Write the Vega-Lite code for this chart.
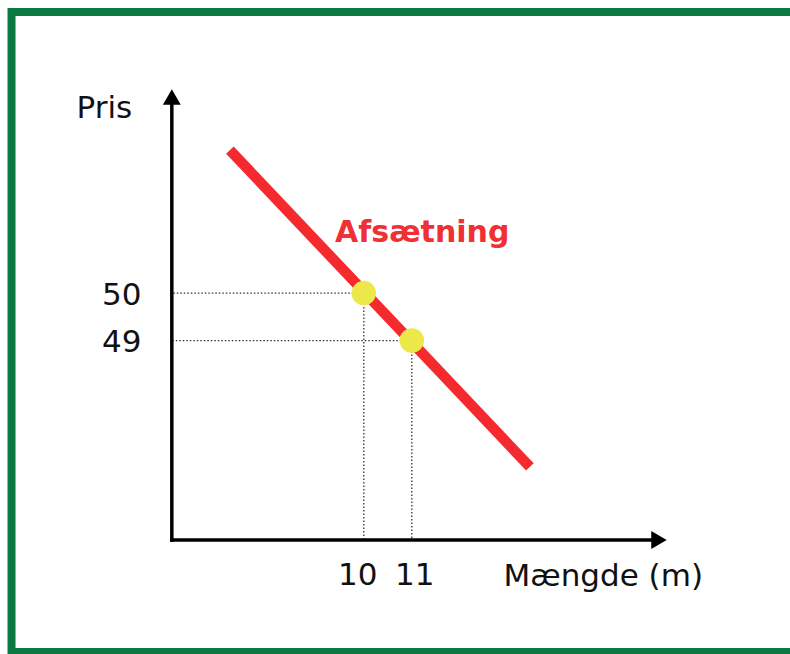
{
  "$schema": "https://vega.github.io/schema/vega-lite/v6.json",
  "width": 790,
  "height": 654,
  "padding": 0,
  "autosize": {"type": "fit", "contains": "padding"},
  "background": "white",
  "config": {"view": {"stroke": null}},
  "datasets": {
    "demand": [{"m": 7.21, "p": 53.01}, {"m": 13.46, "p": 46.34}],
    "points": [{"m": 10, "p": 50}, {"m": 11, "p": 49}],
    "origin": [{"m": 6.0, "p": 44.8}],
    "tips": [{"m": 16.15, "p": 44.8, "dir": "triangle-right"}, {"m": 6.0, "p": 54.13, "dir": "triangle-up"}],
    "labels": [{"m": 9.4, "p": 51.075, "label": "Afsætning"}],
    "frame": [{"m": 2.66, "p": 55.917}]
  },
  "layer": [
    {
      "data": {"name": "points"},
      "mark": {"type": "rule", "color": "#333", "strokeWidth": 1.3, "strokeDash": [1.5, 2]},
      "encoding": {
        "x": {"field": "m", "type": "quantitative"},
        "x2": {"datum": 6.0},
        "y": {"field": "p", "type": "quantitative"}
      }
    },
    {
      "data": {"name": "points"},
      "mark": {"type": "rule", "color": "#333", "strokeWidth": 1.3, "strokeDash": [1.5, 2]},
      "encoding": {
        "x": {"field": "m", "type": "quantitative"},
        "y": {"field": "p", "type": "quantitative"},
        "y2": {"datum": 44.8}
      }
    },
    {
      "data": {"name": "origin"},
      "mark": {"type": "rule", "color": "black", "strokeWidth": 3.5, "strokeCap": "square"},
      "encoding": {
        "x": {"field": "m", "type": "quantitative"},
        "x2": {"datum": 16.0},
        "y": {"field": "p", "type": "quantitative"}
      }
    },
    {
      "data": {"name": "origin"},
      "mark": {"type": "rule", "color": "black", "strokeWidth": 3.5, "strokeCap": "square"},
      "encoding": {
        "x": {"field": "m", "type": "quantitative"},
        "y": {"field": "p", "type": "quantitative"},
        "y2": {"datum": 54.0}
      }
    },
    {
      "data": {"name": "tips"},
      "mark": {"type": "point", "filled": true, "color": "black", "size": 320, "opacity": 1},
      "encoding": {
        "x": {"field": "m", "type": "quantitative"},
        "y": {"field": "p", "type": "quantitative"},
        "shape": {"field": "dir", "type": "nominal", "scale": null, "legend": null}
      }
    },
    {
      "data": {"name": "demand"},
      "mark": {"type": "line", "color": "#f42a2f", "strokeWidth": 10.5, "strokeCap": "butt"},
      "encoding": {
        "x": {
          "field": "m", "type": "quantitative",
          "scale": {"domain": [2.42, 18.88], "nice": false, "zero": false},
          "axis": {
            "orient": "bottom", "offset": -114, "values": [10, 11],
            "labels": false, "domain": false, "ticks": false, "tickSize": 0, "grid": false,
            "title": "Mængde (m)", "titleFont": "DejaVu Sans", "titleFontSize": 31, "titleFontWeight": "normal",
            "titleColor": "#111", "titleX": 503, "titleY": 45, "titleAlign": "left", "titleBaseline": "alphabetic"
          }
        },
        "y": {
          "field": "p", "type": "quantitative",
          "scale": {"domain": [42.4, 56.17], "nice": false, "zero": false},
          "axis": {
            "orient": "left", "offset": -172, "values": [49, 50], "format": "d",
            "domain": false, "ticks": false, "tickSize": 0, "grid": false,
            "labelFont": "DejaVu Sans", "labelFontSize": 31, "labelColor": "#111",
            "labelPadding": 31, "labelBaseline": "middle", "labelFlush": false, "labelOverlap": false,
            "labelOffset": 2,
            "title": "Pris", "titleFont": "DejaVu Sans", "titleFontSize": 31, "titleFontWeight": "normal",
            "titleColor": "#111", "titleAngle": 0, "titleX": -96, "titleY": 117, "titleAlign": "left", "titleBaseline": "alphabetic"
          }
        }
      }
    },
    {
      "data": {"name": "points"},
      "transform": [{"filter": "datum.m === 10"}],
      "mark": {"type": "text", "font": "DejaVu Sans", "fontSize": 31, "color": "#111", "align": "center", "baseline": "alphabetic", "dx": -6},
      "encoding": {
        "x": {"field": "m", "type": "quantitative"},
        "y": {"datum": 43.854, "type": "quantitative"},
        "text": {"field": "m", "type": "quantitative", "format": "d"}
      }
    },
    {
      "data": {"name": "points"},
      "transform": [{"filter": "datum.m === 11"}],
      "mark": {"type": "text", "font": "DejaVu Sans", "fontSize": 31, "color": "#111", "align": "center", "baseline": "alphabetic", "dx": 3},
      "encoding": {
        "x": {"field": "m", "type": "quantitative"},
        "y": {"datum": 43.854, "type": "quantitative"},
        "text": {"field": "m", "type": "quantitative", "format": "d"}
      }
    },
    {
      "data": {"name": "points"},
      "mark": {"type": "point", "shape": "circle", "filled": true, "color": "#ede84a", "size": 600, "opacity": 1},
      "encoding": {
        "x": {"field": "m", "type": "quantitative"},
        "y": {"field": "p", "type": "quantitative"}
      }
    },
    {
      "data": {"name": "labels"},
      "mark": {"type": "text", "font": "DejaVu Sans", "fontSize": 30, "fontWeight": "bold", "color": "#f03035", "align": "left", "baseline": "alphabetic"},
      "encoding": {
        "x": {"field": "m", "type": "quantitative"},
        "y": {"field": "p", "type": "quantitative"},
        "text": {"field": "label", "type": "nominal"}
      }
    },
    {
      "data": {"name": "frame"},
      "mark": {"type": "rect", "filled": false, "stroke": "#0a7a40", "strokeWidth": 8, "clip": true},
      "encoding": {
        "x": {"field": "m", "type": "quantitative"},
        "x2": {"datum": 19.6},
        "y": {"field": "p", "type": "quantitative"},
        "y2": {"datum": 42.44}
      }
    }
  ]
}
